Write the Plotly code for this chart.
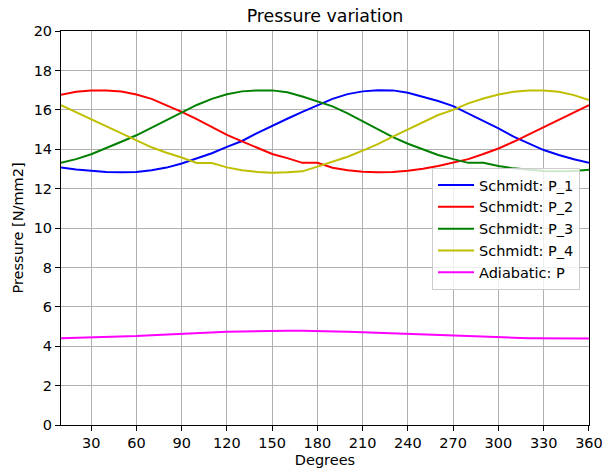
import plotly.graph_objects as go

degrees = [10, 20, 30, 40, 50, 60, 70, 80, 90, 100, 110, 120, 130, 140, 150, 160, 170, 180,
           190, 200, 210, 220, 230, 240, 250, 260, 270, 280, 290, 300, 310, 320, 330, 340, 350, 360]

schmidt_p1 = [13.08, 12.97, 12.91, 12.85, 12.83, 12.85, 12.93, 13.07, 13.28, 13.52, 13.80, 14.12,
              14.42, 14.82, 15.20, 15.55, 15.90, 16.22, 16.56, 16.80, 16.94, 17.00, 16.99, 16.87,
              16.66, 16.45, 16.19, 15.82, 15.45, 15.06, 14.64, 14.30, 13.96, 13.71, 13.49, 13.31]

schmidt_p2 = [16.77, 16.92, 16.99, 16.99, 16.93, 16.78, 16.56, 16.25, 15.90, 15.53, 15.12, 14.73,
              14.40, 14.07, 13.76, 13.55, 13.31, 13.31, 13.06, 12.94, 12.86, 12.83, 12.85, 12.91,
              13.01, 13.15, 13.31, 13.50, 13.76, 14.04, 14.38, 14.75, 15.14, 15.52, 15.87, 16.24]

schmidt_p3 = [13.31, 13.50, 13.75, 14.05, 14.38, 14.71, 15.10, 15.48, 15.86, 16.25, 16.56, 16.79,
              16.94, 16.99, 16.99, 16.89, 16.68, 16.44, 16.18, 15.82, 15.43, 15.01, 14.62, 14.28,
              13.98, 13.71, 13.50, 13.31, 13.31, 13.15, 13.03, 12.95, 12.90, 12.88, 12.90, 12.96]

schmidt_p4 = [16.24, 15.88, 15.53, 15.17, 14.80, 14.43, 14.10, 13.82, 13.58, 13.30, 13.30, 13.08,
              12.94, 12.85, 12.81, 12.83, 12.88, 13.12, 13.37, 13.62, 13.93, 14.26, 14.64, 15.01,
              15.40, 15.74, 16.00, 16.33, 16.58, 16.78, 16.92, 16.99, 16.99, 16.92, 16.75, 16.50]

adiabatic_p = [4.41, 4.43, 4.44, 4.46, 4.49, 4.52, 4.56, 4.60, 4.64, 4.67, 4.70, 4.73,
               4.75, 4.77, 4.78, 4.79, 4.79, 4.78, 4.76, 4.74, 4.71, 4.68, 4.64, 4.61,
               4.58, 4.55, 4.52, 4.49, 4.47, 4.45, 4.43, 4.41, 4.40, 4.39, 4.39, 4.39]

series = [
    ("Schmidt: P_1", schmidt_p1, "#0000ff"),
    ("Schmidt: P_2", schmidt_p2, "#ff0000"),
    ("Schmidt: P_3", schmidt_p3, "#008000"),
    ("Schmidt: P_4", schmidt_p4, "#bfbf00"),
    ("Adiabatic: P", adiabatic_p, "#ff00ff"),
]

x_ticks = [30, 60, 90, 120, 150, 180, 210, 240, 270, 300, 330, 360]
y_ticks = [0, 2, 4, 6, 8, 10, 12, 14, 16, 18, 20]

FONT = "DejaVu Sans"

fig = go.Figure()
for name, vals, color in series:
    fig.add_trace(go.Scatter(x=degrees, y=vals, mode="lines", name=name,
                             line=dict(color=color, width=2)))

axis_common = dict(
    showline=True, linecolor="black", linewidth=1, mirror=True,
    ticks="outside", ticklen=5, tickwidth=1, tickcolor="black",
    showgrid=True, gridcolor="#b0b0b0", gridwidth=1,
    zeroline=False, automargin=False, ticklabeloverflow="allow",
    tickfont=dict(family=FONT, size=14.5, color="black"),
)

fig.update_layout(
    width=602, height=471,
    margin=dict(l=61, r=13, t=31, b=46),
    paper_bgcolor="white", plot_bgcolor="white",
    font=dict(family=FONT, size=14.5, color="black"),
    title=dict(text="Pressure variation", font=dict(family=FONT, size=17.4, color="black"),
               x=0.5, xref="paper", xanchor="center",
               y=1 - 16 / 471, yref="container", yanchor="middle"),
    xaxis=dict(range=[10, 360.02], tickvals=x_ticks, ticktext=[str(t) for t in x_ticks],
               title=dict(text="Degrees", font=dict(family=FONT, size=14.5, color="black"), standoff=4),
               **axis_common),
    yaxis=dict(range=[0, 20.005], tickvals=y_ticks, ticktext=[str(t) for t in y_ticks],
               title=dict(text="Pressure [N/mm2]", font=dict(family=FONT, size=14.5, color="black"), standoff=6),
               **axis_common),
    legend=dict(x=(432 - 61) / 528, y=1 - (168 - 31) / 394, xanchor="left", yanchor="top",
                bgcolor="rgba(255,255,255,0.8)", bordercolor="#cccccc", borderwidth=1,
                font=dict(family=FONT, size=14.5, color="black"),
                tracegroupgap=0, itemwidth=36),
    showlegend=True,
)

fig.write_html("out.html")
